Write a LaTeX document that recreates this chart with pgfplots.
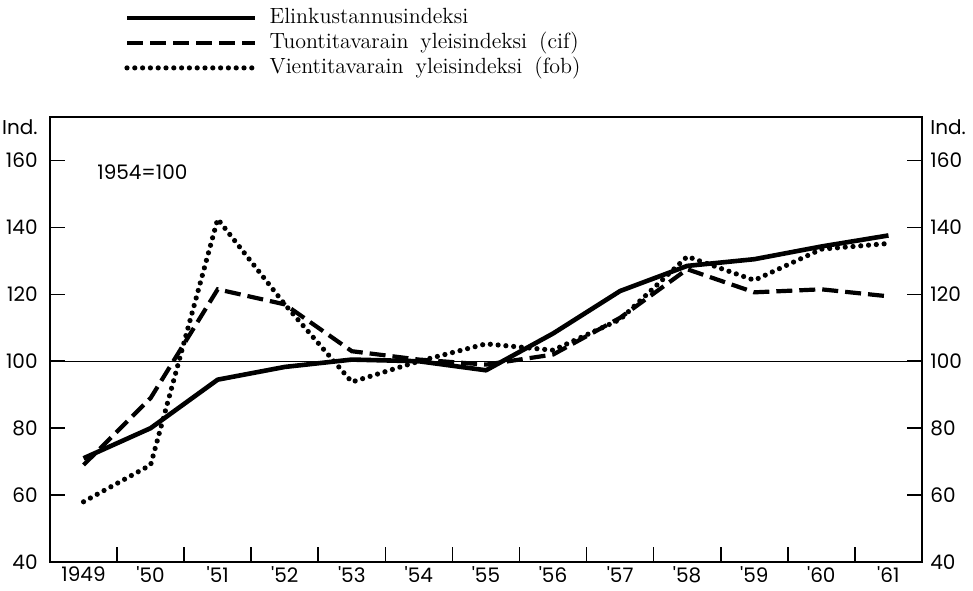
\documentclass[border=0pt]{standalone}
\usepackage{fontspec}
\usepackage{pgfplots}
\pgfplotsset{compat=1.18}
\newfontfamily\tickfont{Poppins}
\pgfplotstableread{
year cost imp exp
1949 71    69    58
1950 80    89    69
1951 94.5  121.5 142.5
1952 98.3  117   117
1953 100.5 103   93.8
1954 100   100.5 100
1955 97.3  99    105.2
1956 108.3 102   103.3
1957 121   113   112.5
1958 128.5 127.5 131.3
1959 130.5 120.6 124.2
1960 134.3 121.5 133.5
1961 137.6 119.4 135.2
}\data
\begin{document}
\begin{tikzpicture}
\pgfplotsset{
  base/.style={
    scale only axis, width=436pt, height=222.5pt,
    at={(0,0)}, anchor=south west,
    xmin=1948.5, xmax=1961.5, ymin=40, ymax=173,
    axis line style={line width=1.2pt},
    tick align=inside,
    major tick length=0pt,
    minor tick length=7.5pt,
    every tick/.style={black, line width=0.8pt},
    ytick={40,60,...,160},
    minor ytick={60,80,...,160},
    extra y ticks={170}, extra y tick labels={Ind.},
    /pgf/number format/assume math mode=true,
    ticklabel style={font=\tickfont\fontsize{10}{12}\selectfont, inner sep=0pt},
  }
}
\begin{axis}[base,
  xtick={1949,...,1961},
  xticklabels={1949,'50,'51,'52,'53,'54,'55,'56,'57,'58,'59,'60,'61},
  minor xtick={1949.5,1950.5,...,1960.5},
  xtick pos=bottom, ytick pos=left,
  xticklabel style={yshift=-2pt},
  yticklabel style={xshift=-6pt},
  legend style={at={(axis description cs:0,1)}, anchor=north west,
    xshift=37pt, yshift=55pt, draw=none, fill=none, inner sep=0pt,
    row sep=2pt, column sep=6pt,
    font=\fontsize{11}{13}\selectfont,
    nodes={inner sep=0pt, text height=8pt, text depth=2.5pt}},
  legend cell align=left,
  legend image code/.code={\draw[#1] (0pt,0pt) -- (64pt,0pt);},
]
\addplot[forget plot, line width=0.6pt] coordinates {(1948.5,100) (1961.5,100)};
\addplot[black, line width=2.3pt, line join=round] table[x=year,y=cost]{\data};
\addplot[black, line width=2.1pt, dash pattern=on 8pt off 3.5pt] table[x=year,y=imp]{\data};
\addplot[black, line width=2.6pt, line cap=round, dash pattern=on 0pt off 3.9pt] table[x=year,y=exp]{\data};
\legend{Elinkustannusindeksi,
  Tuontitavarain\hspace{6pt}yleisindeksi\hspace{6pt}(cif),
  Vientitavarain\hspace{6pt}yleisindeksi\hspace{6pt}(fob)}
\node[anchor=west, font=\tickfont\fontsize{10}{12}\selectfont, inner sep=0pt] at (axis cs:1949.2,156.5) {1954=100};
\end{axis}
\begin{axis}[base,
  xtick=\empty,
  ytick pos=right,
  yticklabel pos=right,
  yticklabel style={xshift=4pt},
]
\end{axis}
\pgfresetboundingbox
\path (-25pt,-14pt) rectangle (461.5pt,281pt);
\end{tikzpicture}
\end{document}
